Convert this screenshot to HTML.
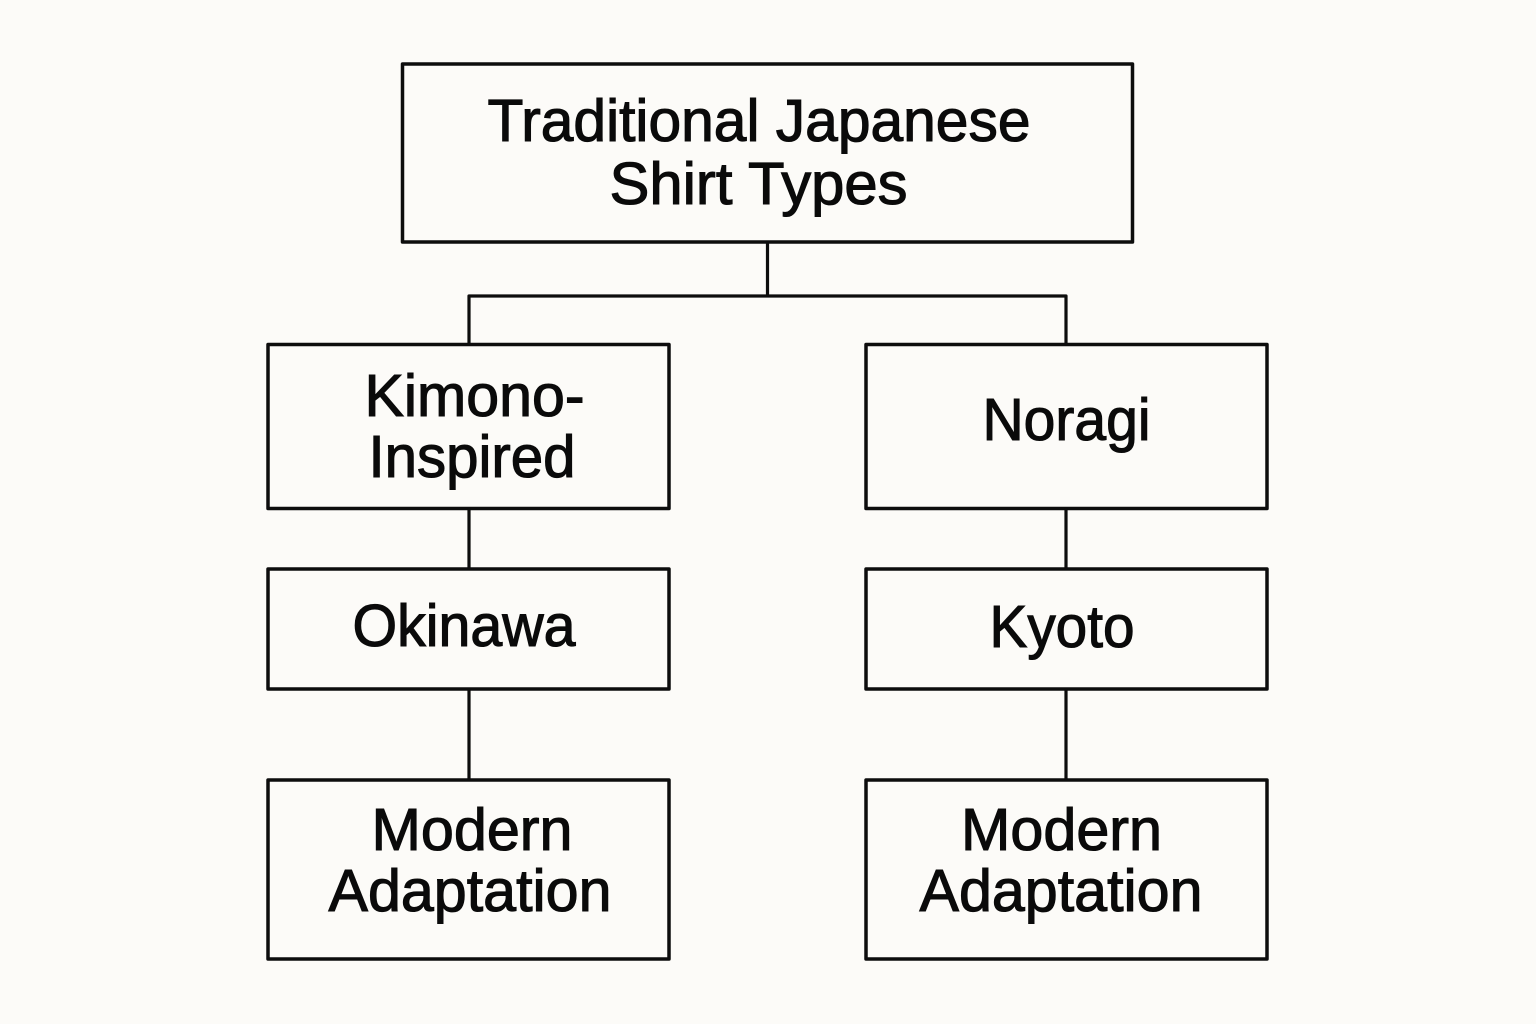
<!DOCTYPE html>
<html>
<head>
<meta charset="utf-8">
<style>
html,body{margin:0;padding:0;background:#fcfbf8;}
svg{display:block;}
text{font-family:"Liberation Sans",sans-serif;font-size:59px;fill:#0a0a0a;text-anchor:middle;stroke:#0a0a0a;stroke-width:1.1px;}
rect{fill:none;stroke:#0d0d0d;stroke-width:3.5;stroke-linejoin:round;}
path{fill:none;stroke:#0d0d0d;stroke-width:3.2;stroke-linejoin:round;}
</style>
</head>
<body>
<svg width="1536" height="1024" viewBox="0 0 1536 1024" xmlns="http://www.w3.org/2000/svg">
<rect x="0" y="0" width="1536" height="1024" style="fill:#fcfbf8;stroke:none"/>
<rect x="402.500" y="64" width="730" height="178"/>
<rect x="268" y="344.500" width="401" height="164"/>
<rect x="866" y="344.500" width="401" height="164"/>
<rect x="268" y="569" width="401" height="120"/>
<rect x="866" y="569" width="401" height="120"/>
<rect x="268" y="780" width="401" height="179"/>
<rect x="866" y="780" width="401" height="179"/>
<path d="M767.500 242V296M469 344V296H1066V344M469 508V569M1066 508V569M469 689V780M1066 689V780"/>
<text x="759" y="141" textLength="543" lengthAdjust="spacingAndGlyphs">Traditional Japanese</text>
<text x="758.500" y="204" textLength="298" lengthAdjust="spacingAndGlyphs">Shirt Types</text>
<text x="474.500" y="416" textLength="220" lengthAdjust="spacingAndGlyphs">Kimono-</text>
<text x="472" y="477" textLength="207" lengthAdjust="spacingAndGlyphs">Inspired</text>
<text x="1066.500" y="440" textLength="168" lengthAdjust="spacingAndGlyphs">Noragi</text>
<text x="464" y="646" textLength="223" lengthAdjust="spacingAndGlyphs">Okinawa</text>
<text x="1062" y="647" textLength="145" lengthAdjust="spacingAndGlyphs">Kyoto</text>
<text x="472" y="850" textLength="201" lengthAdjust="spacingAndGlyphs">Modern</text>
<text x="470" y="911" textLength="283" lengthAdjust="spacingAndGlyphs">Adaptation</text>
<text x="1061.500" y="850" textLength="201" lengthAdjust="spacingAndGlyphs">Modern</text>
<text x="1061" y="911" textLength="283" lengthAdjust="spacingAndGlyphs">Adaptation</text>
</svg>
</body>
</html>
